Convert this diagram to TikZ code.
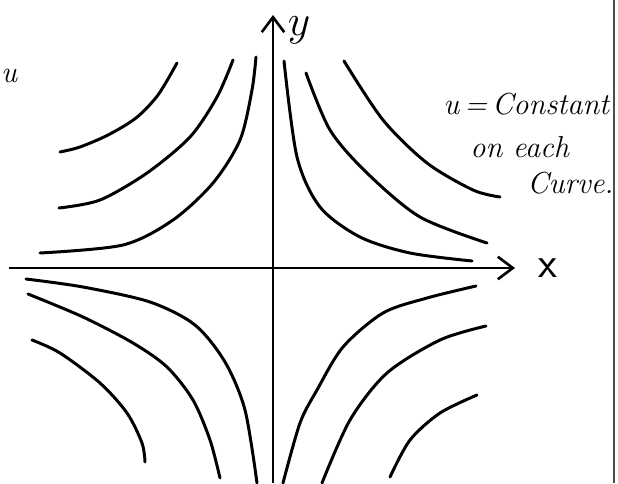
\documentclass[tikz,border=0pt]{standalone}
\usepackage{tikz}
\usetikzlibrary{arrows.meta,positioning}
\tikzset{
  eje/.style={line width=1.5pt, -{Straight Barb[length=3mm,width=4.5mm]}},
  curva/.style={line width=1.7pt, line cap=round, line join=round},
  nota/.style={font=\itshape\LARGE, anchor=west, inner sep=0pt},
  borde/.style={line width=0.6pt, black!70}
}

\begin{document}
\begin{tikzpicture}[x=0.02cm, y=-0.02cm]
  \useasboundingbox (0,0) rectangle (618,483);

  % Ejes
  \coordinate (xi) at (9,268);
  \coordinate (xf) at (515,268);
  \coordinate (yi) at (273,483);
  \coordinate (yf) at (273,15);
  \draw[eje] (xi) -- (xf);
  \draw[eje] (yi) -- (yf);
  \node[font=\Huge\sffamily, right=0.35cm of xf] (xlab) {x};
  \node[font=\Huge] (ylab) at (299,30) {$y$};

  % Curvas, cuadrante superior izquierdo
  \draw[curva] plot[smooth] coordinates {(60,152) (80,147) (108,135) (136,118) (158,95) (177,63)};
  \draw[curva] plot[smooth] coordinates {(59,208) (100,200) (147,173) (190,137) (217,97) (233,60)};
  \draw[curva] plot[smooth] coordinates {(40,253) (123,245) (173,220) (213,183) (240,140) (252,90) (256,57)};

  % Curvas, cuadrante superior derecho
  \draw[curva] plot[smooth] coordinates {(284,61) (297,157) (320,207) (360,237) (410,253) (472,261)};
  \draw[curva] plot[smooth] coordinates {(306,73) (330,130) (367,173) (420,217) (487,243)};
  \draw[curva] plot[smooth] coordinates {(344,61) (383,120) (427,163) (473,190) (500,197)};

  % Curvas, cuadrante inferior derecho
  \draw[curva] plot[smooth] coordinates {(476,286) (427,298) (383,313) (343,347) (317,390) (300,423) (283,483)};
  \draw[curva] plot[smooth] coordinates {(486,326) (440,340) (387,373) (350,420) (322,483)};
  \draw[curva] plot[smooth] coordinates {(477,395) (440,413) (410,440) (390,477)};

  % Curvas, cuadrante inferior izquierdo
  \draw[curva] plot[smooth] coordinates {(26,279) (83,287) (150,302) (195,325) (225,362) (245,410) (257,483)};
  \draw[curva] plot[smooth] coordinates {(28,294) (83,317) (133,343) (167,367) (193,400) (210,440) (220,478)};
  \draw[curva] plot[smooth] coordinates {(32,340) (60,353) (100,383) (127,413) (142,443) (145,462)};

  % Texto
  \node[nota] (t1) at (443,104) {u\,=\,Constant};
  \node[nota] (t2) at (470,147) {on each};
  \node[nota] (t3) at (527,183) {Curve.};
  \node[font=\itshape\LARGE] (u0) at (9,76) {u};

  % Borde derecho
  \draw[borde] (614,0) -- (614,483);
\end{tikzpicture}
\end{document}
